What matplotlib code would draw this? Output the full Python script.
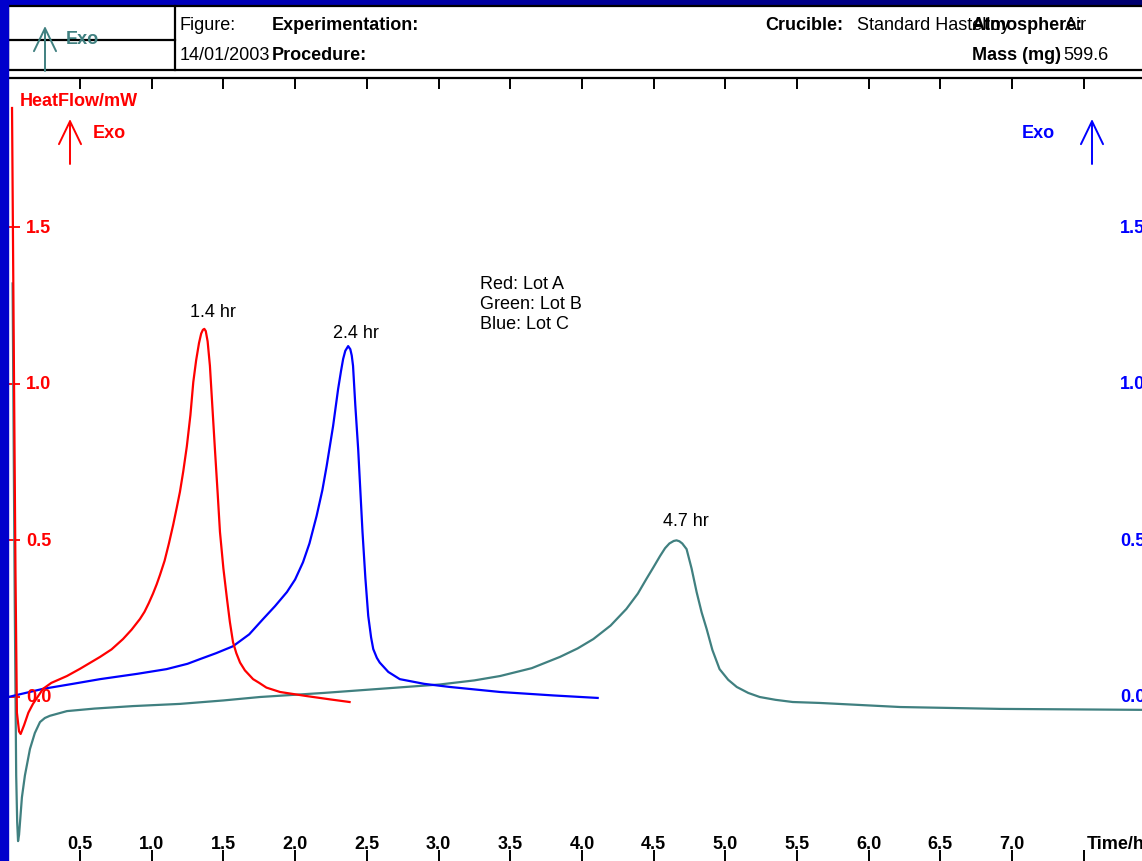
import numpy as np
import matplotlib.pyplot as plt
import matplotlib.transforms as mtransforms
from matplotlib.patches import Rectangle, FancyArrowPatch
from matplotlib.lines import Line2D

plt.rcParams['font.family'] = ['Liberation Sans', 'DejaVu Sans']

# === DATA ===
# Lot A (red)
lot_a_t = [0.026, 0.04, 0.05, 0.06, 0.075, 0.086, 0.11, 0.14, 0.172, 0.242, 0.30,
           0.409, 0.50, 0.64, 0.72, 0.80, 0.86, 0.918, 0.95, 0.98, 1.009, 1.035,
           1.058, 1.09, 1.12, 1.15, 1.175, 1.197, 1.22, 1.245, 1.27, 1.29, 1.31,
           1.33, 1.345, 1.357, 1.367, 1.377, 1.39, 1.406, 1.42, 1.441, 1.46, 1.476,
           1.50, 1.525, 1.545, 1.567, 1.59, 1.616, 1.65, 1.707, 1.75, 1.80, 1.895,
           2.08, 2.25, 2.38]
lot_a_y = [1.88, 1.0, 0.40, -0.05, -0.11, -0.118, -0.09, -0.05, -0.022, 0.026, 0.045,
           0.067, 0.09, 0.128, 0.152, 0.185, 0.215, 0.249, 0.272, 0.30, 0.33, 0.36,
           0.39, 0.435, 0.49, 0.55, 0.605, 0.655, 0.72, 0.80, 0.90, 1.005, 1.075,
           1.13, 1.16, 1.172, 1.175, 1.168, 1.135, 1.057, 0.95, 0.79, 0.65, 0.527,
           0.41, 0.313, 0.24, 0.175, 0.14, 0.11, 0.085, 0.057, 0.045, 0.03, 0.016,
           0.003, -0.008, -0.016]

# Lot B (green / teal)
lot_b_t = [0.03, 0.045, 0.055, 0.062, 0.068, 0.075, 0.085, 0.095, 0.116, 0.151, 0.185,
           0.221, 0.255, 0.29, 0.409, 0.60, 0.87, 1.197, 1.50, 1.755, 2.20, 2.59,
           3.01, 3.25, 3.43, 3.65, 3.847, 3.97, 4.08, 4.20, 4.31, 4.39, 4.45, 4.50,
           4.545, 4.58, 4.61, 4.64, 4.66, 4.68, 4.70, 4.73, 4.765, 4.80, 4.835,
           4.87, 4.91, 4.96, 5.02, 5.08, 5.16, 5.24, 5.35, 5.47, 5.66, 6.22, 6.92,
           7.9]
lot_b_y = [1.32, 0.30, -0.25, -0.40, -0.46, -0.44, -0.38, -0.32, -0.25, -0.166, -0.115,
           -0.08, -0.067, -0.06, -0.045, -0.037, -0.029, -0.022, -0.011, 0.0, 0.013, 0.026,
           0.04, 0.053, 0.067, 0.092, 0.128, 0.155, 0.185, 0.228, 0.281, 0.33, 0.377, 0.415,
           0.45, 0.475, 0.49, 0.498, 0.50, 0.497, 0.49, 0.472, 0.41, 0.335, 0.27,
           0.217, 0.15, 0.089, 0.055, 0.032, 0.013, 0.0, -0.009, -0.016, -0.019, -0.032, -0.038,
           -0.041]

# Lot C (blue)
lot_c_t = [0.0, 0.242, 0.45, 0.64, 0.90, 1.104, 1.25, 1.337, 1.45, 1.567, 1.68, 1.777,
           1.86, 1.943, 2.0, 2.055, 2.10, 2.15, 2.19, 2.22, 2.265, 2.30, 2.32, 2.335,
           2.35, 2.37, 2.385, 2.395, 2.404, 2.42, 2.44, 2.47, 2.49, 2.51, 2.53, 2.545,
           2.57, 2.59, 2.65, 2.73, 2.90, 3.08, 3.43, 3.80, 4.11]
lot_c_y = [0.0, 0.026, 0.042, 0.057, 0.074, 0.089, 0.106, 0.121, 0.14, 0.162, 0.20, 0.249,
           0.29, 0.335, 0.375, 0.43, 0.49, 0.578, 0.66, 0.737, 0.865, 0.983, 1.04, 1.079,
           1.105, 1.12, 1.11, 1.09, 1.057, 0.93, 0.79, 0.527, 0.38, 0.259, 0.19, 0.153,
           0.125, 0.11, 0.08, 0.057, 0.042, 0.032, 0.016, 0.005, -0.003]

x_ticks = [0.5, 1.0, 1.5, 2.0, 2.5, 3.0, 3.5, 4.0, 4.5, 5.0, 5.5, 6.0, 6.5, 7.0]
y_ticks = [0.0, 0.5, 1.0, 1.5]
peak_labels = ["1.4 hr", "2.4 hr", "4.7 hr"]
peak_pos = [(1.427, 1.229), (2.424, 1.165), (4.726, 0.562)]

RED, BLUE, TEAL = "#ff0000", "#0000ff", "#408080"

# === FIGURE (pixel layout) ===
W, H = 1142, 862
fig = plt.figure(figsize=(W / 100, H / 100), dpi=100)
fig.patch.set_facecolor("white")

def fx(px):
    return px / W

def fy(py):
    return 1 - py / H

# slide background: top band gradient + left strip
band = fig.add_axes([0, fy(7), 1, 7 / H])
grad = np.linspace(0, 1, 256)[None, :]
band.imshow(grad, aspect="auto", cmap=plt.matplotlib.colors.LinearSegmentedColormap.from_list(
    "b", ["#0000cc", "#00009a", "#000070"]), extent=[0, 1, 0, 1])
band.axis("off")
fig.patches.append(Rectangle((0, 0), fx(8), 1, transform=fig.transFigure,
                             color="#0000cc", zorder=5))

# === MAIN AXES ===
X0, PX_HR = 8.3, 143.4
Y0, PX_MW = 698, 313.3
TOP = 79
ax = fig.add_axes([fx(X0), 0, 1 - fx(X0), (H - TOP) / H])
ax.set_xlim(0, (W - X0) / PX_HR)
ax.set_ylim((Y0 - H) / PX_MW, (Y0 - TOP) / PX_MW)

for s in ["right", "bottom"]:
    ax.spines[s].set_visible(False)
ax.spines["top"].set_linewidth(1.6)
ax.spines["left"].set_color(RED)
ax.spines["left"].set_linewidth(1.3)
ax.spines["left"].set_bounds((Y0 - H) / PX_MW, (Y0 - 110) / PX_MW)

ax.set_xticks(x_ticks + [7.5])
ax.tick_params(axis="x", top=True, bottom=True, direction="in", length=7.8,
               width=1.4, labelbottom=False)
ax.set_yticks(y_ticks)
ax.tick_params(axis="y", left=True, right=False, direction="in", length=8.5,
               width=1.3, color=RED, labelleft=False)

ax.plot(lot_b_t, lot_b_y, color=TEAL, lw=1.6)
ax.plot(lot_c_t, lot_c_y, color=BLUE, lw=1.6)
ax.plot(lot_a_t, lot_a_y, color=RED, lw=1.6)

fs = 13
xt = mtransforms.blended_transform_factory(ax.transData, fig.transFigure)
for t in x_ticks:
    ax.text(t, fy(845), f"{t:.1f}", transform=xt, ha="center", va="center",
            fontsize=fs, fontweight="bold")
ax.text(7.52, fy(845), "Time/h", transform=xt, ha="left", va="center",
        fontsize=fs, fontweight="bold", clip_on=False)

yt = mtransforms.blended_transform_factory(fig.transFigure, ax.transData)
for v in y_ticks:
    ax.text(fx(26), v, f"{v:.1f}", transform=yt, ha="left", va="center",
            fontsize=fs, fontweight="bold", color=RED)
    ax.text(fx(1120), v, f"{v:.1f}", transform=yt, ha="left", va="center",
            fontsize=fs, fontweight="bold", color=BLUE)

for lab, (t, v) in zip(peak_labels, peak_pos):
    ax.text(t, v, lab, ha="center", va="center", fontsize=fs)
ax.text(3.29, 1.348, "Red: Lot A\nGreen: Lot B\nBlue: Lot C", ha="left", va="top",
        fontsize=fs, linespacing=1.25)

# axis titles and Exo arrows
fig.text(fx(20), fy(101), "HeatFlow/mW", color=RED, fontsize=fs, fontweight="bold",
         va="center")
fig.text(fx(93), fy(133), "Exo", color=RED, fontsize=fs, fontweight="bold", va="center")
fig.text(fx(1022), fy(133), "Exo", color=BLUE, fontsize=fs, fontweight="bold", va="center")

def exo_arrow(x, y_tail, y_tip, color):
    a = FancyArrowPatch((fx(x), fy(y_tail)), (fx(x), fy(y_tip)),
                        arrowstyle="->,head_length=1.1,head_width=0.53",
                        mutation_scale=15, lw=1.4, color=color,
                        shrinkA=0, shrinkB=0, transform=fig.transFigure, zorder=6)
    fig.patches.append(a)

exo_arrow(70, 165, 120, RED)
exo_arrow(1092, 165, 120, BLUE)

# === HEADER ===
def hline(y, x1, x2, lw=1.6):
    fig.lines.append(Line2D([fx(x1), fx(x2)], [fy(y), fy(y)], color="black", lw=lw,
                            transform=fig.transFigure))

def vline(x, y1, y2, lw=1.6):
    fig.lines.append(Line2D([fx(x), fx(x)], [fy(y1), fy(y2)], color="black", lw=lw,
                            transform=fig.transFigure))

hline(7, 8, W)
hline(71, 8, W)
hline(41, 8, 175)
vline(8, 7, 71)
vline(175, 7, 71)

exo_arrow(45, 72, 27, TEAL)
fig.text(fx(66), fy(40), "Exo", color=TEAL, fontsize=fs, fontweight="bold", va="center")

hdr = [
    (180, 25, "Figure:", "normal"),
    (272, 25, "Experimentation:", "bold"),
    (180, 55, "14/01/2003", "normal"),
    (272, 55, "Procedure:", "bold"),
    (765, 25, "Crucible:", "bold"),
    (857, 25, "Standard Hastelloy", "normal"),
    (972, 25, "Atmosphere:", "bold"),
    (1065, 25, "Air", "normal"),
    (972, 55, "Mass (mg)", "bold"),
    (1063, 55, "599.6", "normal"),
]
for x, y, s, w in hdr:
    fig.text(fx(x), fy(y), s, fontsize=fs, fontweight=w, va="center")

fig.savefig("out.png", dpi=100)
